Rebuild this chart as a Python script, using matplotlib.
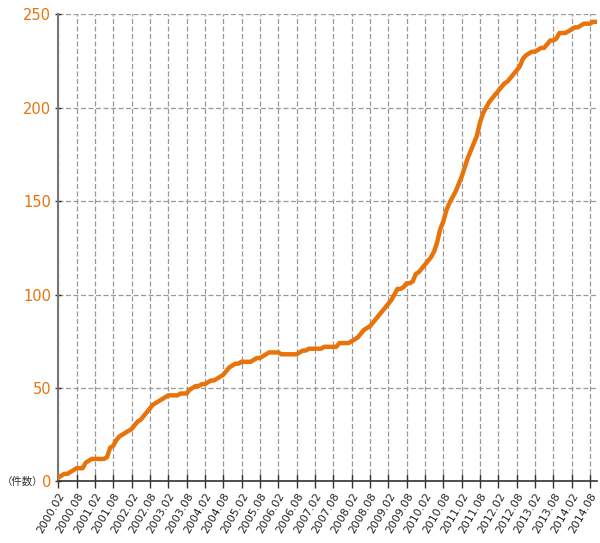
import matplotlib
matplotlib.use("Agg")
import matplotlib.pyplot as plt

# monthly cumulative count, 2000.02 .. 2014.10
counts = [
    2, 3, 4, 4, 5, 6, 7, 7, 7, 10, 11, 12,
    12, 12, 12, 12, 13, 18, 19, 22, 24, 25, 26, 27,
    28, 30, 32, 33, 35, 37, 39, 41, 42, 43, 44, 45,
    46, 46, 46, 46, 47, 47, 47, 49, 50, 51, 51, 52,
    52, 53, 54, 54, 55, 56, 57, 59, 61, 62, 63, 63,
    64, 64, 64, 64, 65, 66, 66, 67, 68, 69, 69, 69,
    69, 68, 68, 68, 68, 68, 68, 69, 70, 70, 71, 71,
    71, 71, 71, 72, 72, 72, 72, 72, 74, 74, 74, 74,
    75, 76, 77, 79, 81, 82, 83, 85, 87, 89, 91, 93,
    95, 97, 100, 103, 103, 104, 106, 106, 107, 111, 112, 114,
    116, 118, 120, 123, 128, 135, 139, 145, 149, 152, 155, 159,
    163, 168, 173, 177, 181, 185, 192, 197, 200, 203, 205, 207,
    209, 211, 213, 214, 216, 218, 220, 222, 226, 228, 229, 230,
    230, 231, 232, 232, 234, 236, 236, 237, 240, 240, 240, 241,
    242, 243, 243, 244, 245, 245, 245, 246, 246,
]
months = list(range(len(counts)))

tick_labels = [
    "2000.02", "2000.08", "2001.02", "2001.08", "2002.02", "2002.08",
    "2003.02", "2003.08", "2004.02", "2004.08", "2005.02", "2005.08",
    "2006.02", "2006.08", "2007.02", "2007.08", "2008.02", "2008.08",
    "2009.02", "2009.08", "2010.02", "2010.08", "2011.02", "2011.08",
    "2012.02", "2012.08", "2013.02", "2013.08", "2014.02", "2014.08",
]
tick_pos = [i * 6 for i in range(len(tick_labels))]
y_ticks = [0, 50, 100, 150, 200, 250]

orange = "#E8730A"

fig = plt.figure(figsize=(6.0, 5.43), dpi=100)
ax = fig.add_axes([0.097, 0.1136, 0.898, 0.86])

ax.plot(months, counts, color=orange, lw=3.2, solid_joinstyle="round", zorder=3)

ax.set_xlim(0, 176.3)
ax.set_ylim(0, 250)
ax.set_xticks(tick_pos)
ax.set_xticklabels(tick_labels, rotation=60, ha="right", rotation_mode="anchor",
                   fontsize=7.8, color="#222222")
ax.set_yticks(y_ticks)
ax.set_yticklabels([str(v) for v in y_ticks], fontsize=10.5, color=orange)

ax.grid(True, color="#999999", linestyle=(0, (4, 2)), lw=0.9)
ax.set_axisbelow(True)

for s in ["top", "right"]:
    ax.spines[s].set_visible(False)
ax.spines["left"].set_color("#777777")
ax.spines["left"].set_linewidth(1.5)
ax.spines["bottom"].set_color("#333333")
ax.spines["bottom"].set_linewidth(1.2)

ax.tick_params(axis="x", direction="inout", length=10, width=1.0, color="#333333", pad=2)
ax.tick_params(axis="y", direction="inout", length=4, width=1.0, color="#333333", pad=3)

fig.text(0.072, 0.1136, "（件数）", ha="right", va="center",
         fontsize=7.5, color="#333333", family=["Noto Sans CJK JP", "DejaVu Sans"])

fig.savefig("out.png", dpi=100)
